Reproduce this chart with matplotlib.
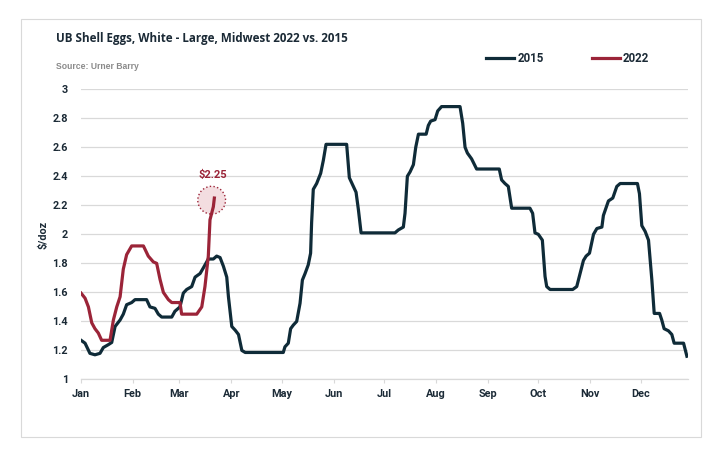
import matplotlib
matplotlib.use("Agg")
import matplotlib.pyplot as plt
from matplotlib.patches import Rectangle

# day of year (0 = Jan 1) and price in $/doz
days_2015 = [0.3, 2.7, 5.6, 8.6, 11.6, 13.6, 16.6, 18.6, 20.6, 23.6, 25.5, 27.5,
             30.5, 32.5, 39.4, 41.4, 44.4, 46.4, 48.4, 54.4, 56.3, 59.3, 61.3,
             63.3, 66.3, 68.3, 71.3, 73.3, 76.2, 79.2, 81.2, 83.2, 85.2, 87.2,
             88.2, 90.2, 92.2, 94.2, 96.2, 98.2, 101.1, 120.9, 121.9, 123.9,
             125.3, 126.9, 128.9, 130.9, 132.3, 133.9, 135.8, 137.2, 137.8,
             138.8, 140.8, 143.2, 144.8, 146.4, 158.7, 160.3, 162.7, 164.3,
             165.7, 167.3, 187.5, 189.5, 192.5, 193.5, 194.9, 196.5, 198.5,
             199.9, 201.5, 206.1, 207.4, 208.8, 211.4, 213.0, 215.3, 226.3,
             227.9, 229.3, 230.7, 233.2, 236.2, 249.7, 251.1, 253.1, 255.1,
             257.1, 268.0, 269.6, 271.0, 273.0, 275.4, 277.0, 278.0, 280.0,
             293.5, 295.9, 297.9, 299.9, 301.5, 303.5, 305.9, 307.9, 310.9,
             311.8, 314.8, 317.4, 319.8, 321.8, 332.1, 333.3, 334.7, 336.7,
             338.7, 340.7, 342.1, 345.3, 346.6, 348.0, 350.6, 352.6, 354.0,
             359.6, 361.6]
price_2015 = [1.27, 1.25, 1.18, 1.17, 1.18, 1.22, 1.24, 1.255, 1.365, 1.41, 1.45,
              1.515, 1.53, 1.55, 1.55, 1.50, 1.49, 1.45, 1.43, 1.43, 1.47, 1.50,
              1.595, 1.62, 1.64, 1.705, 1.73, 1.77, 1.83, 1.83, 1.85, 1.84, 1.78,
              1.705, 1.57, 1.365, 1.34, 1.31, 1.20, 1.186, 1.186, 1.186, 1.225,
              1.25, 1.35, 1.375, 1.40, 1.525, 1.685, 1.73, 1.79, 1.87, 2.08,
              2.31, 2.35, 2.42, 2.51, 2.62, 2.62, 2.39, 2.33, 2.29, 2.17, 2.01,
              2.01, 2.03, 2.05, 2.145, 2.40, 2.43, 2.48, 2.60, 2.69, 2.69, 2.75,
              2.78, 2.79, 2.85, 2.88, 2.88, 2.765, 2.60, 2.56, 2.52, 2.45, 2.45,
              2.375, 2.35, 2.33, 2.18, 2.18, 2.145, 2.01, 2.00, 1.96, 1.71, 1.64,
              1.62, 1.62, 1.64, 1.73, 1.82, 1.85, 1.87, 2.00, 2.04, 2.05, 2.13,
              2.23, 2.25, 2.33, 2.35, 2.35, 2.28, 2.06, 2.02, 1.96, 1.685, 1.455,
              1.455, 1.41, 1.35, 1.335, 1.31, 1.25, 1.25, 1.16]

days_2022 = [0.3, 2.7, 4.7, 6.7, 8.6, 10.6, 12.6, 17.6, 19.6, 21.6, 23.6, 25.5,
             27.5, 30.5, 37.5, 40.4, 43.4, 45.4, 47.4, 49.4, 52.4, 54.4, 59.3,
             60.3, 69.3, 72.3, 74.2, 76.2, 77.2, 79.2, 79.8]
price_2022 = [1.595, 1.56, 1.50, 1.39, 1.35, 1.32, 1.27, 1.27, 1.41, 1.50, 1.57,
              1.76, 1.86, 1.92, 1.92, 1.85, 1.81, 1.80, 1.69, 1.60, 1.55, 1.53,
              1.53, 1.45, 1.45, 1.50, 1.64, 1.85, 2.10, 2.19, 2.25]

month_starts = [0, 31, 59, 90, 120, 151, 181, 212, 243, 273, 304, 334]
month_labels = ['Jan', 'Feb', 'Mar', 'Apr', 'May', 'Jun', 'Jul', 'Aug', 'Sep',
                'Oct', 'Nov', 'Dec']
y_ticks = [1, 1.2, 1.4, 1.6, 1.8, 2, 2.2, 2.4, 2.6, 2.8, 3]

navy = '#0f2b38'
maroon = '#9b2438'
txt = '#1b2a36'
grid_c = '#d9d9d9'
lab_font = 'Roboto'

fig = plt.figure(figsize=(7.19, 4.55), dpi=100)
ax = fig.add_axes([0.112, 0.166, 0.845, 0.638])

ax.plot(days_2015, price_2015, color=navy, lw=2.3, label='2015',
        solid_joinstyle='round', zorder=3)
ax.plot(days_2022, price_2022, color=maroon, lw=2.3, label='2022',
        solid_joinstyle='round', zorder=4)

# highlight on the latest 2022 value
ax.scatter([days_2022[-1] - 1.6], [price_2022[-1] - 0.015], s=400,
           facecolor='#f3dde0', edgecolor=maroon, linestyle=':', lw=1,
           zorder=2)
ax.annotate('${:.2f}'.format(price_2022[-1]),
            (days_2022[-1] - 1.0, price_2022[-1]), xytext=(0, 13),
            textcoords='offset points', ha='center', va='bottom',
            color=maroon, fontsize=8, fontweight='bold', family=lab_font)

ax.set_xlim(0, 362.3)
ax.set_ylim(1, 3)
ax.set_xticks(month_starts)
ax.set_xticklabels(month_labels)
ax.set_yticks(y_ticks)
ax.set_yticklabels(['{:g}'.format(v) for v in y_ticks])
ax.grid(axis='y', color=grid_c, lw=0.9)
ax.set_axisbelow(True)
for s in ['top', 'right', 'left']:
    ax.spines[s].set_visible(False)
ax.spines['bottom'].set_color(grid_c)
ax.spines['bottom'].set_linewidth(0.9)
ax.tick_params(axis='x', length=3, color=grid_c, pad=4)
ax.tick_params(axis='y', length=0, pad=9)
for lab in ax.get_xticklabels() + ax.get_yticklabels():
    lab.set_family(lab_font)
    lab.set_fontweight('bold')
    lab.set_fontsize(7.8)
    lab.set_color(txt)

ax.legend(loc='center left', bbox_to_anchor=(0.676, 0.872),
          bbox_transform=fig.transFigure, ncol=2, frameon=False,
          borderpad=0, borderaxespad=0, handlelength=2.4, handletextpad=0.3,
          columnspacing=4.2,
          prop={'family': lab_font, 'weight': 'bold', 'size': 8.3},
          labelcolor=txt)

fig.text(0.078, 0.908, 'UB Shell Eggs, White - Large, Midwest 2022 vs. 2015',
         family='Open Sans', fontweight='bold', fontsize=8.4, color=txt,
         va='baseline')
fig.text(0.078, 0.853, 'Source: Urner Barry', family='Liberation Sans',
         fontweight='bold', fontsize=6.2, color='#8a8a8a', va='center')
fig.text(0.061, 0.4835, '$/doz', rotation=90, family=lab_font,
         fontweight='bold', fontsize=7.8, color=txt, ha='center',
         va='center')

fig.add_artist(Rectangle((0.0296, 0.0389), 0.946, 0.9187,
                         transform=fig.transFigure, fill=False,
                         edgecolor=grid_c, lw=0.8))

fig.savefig('out.png', dpi=100)
